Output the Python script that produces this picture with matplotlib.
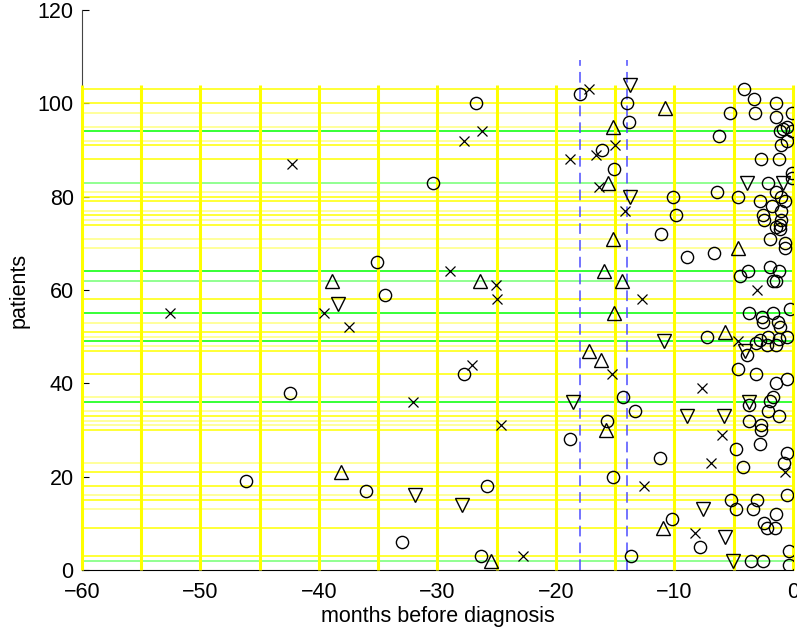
import numpy as np
import matplotlib
matplotlib.use('Agg')
import matplotlib.pyplot as plt

plt.rcParams['font.family'] = ['Liberation Sans', 'DejaVu Sans']

# patient rows drawn as horizontal lines
rows_yellow = [103, 100, 91, 88, 80, 79, 76, 74, 58, 51, 47, 42, 33, 30, 21, 18, 15, 9, 3]
rows_yellow_pale = [98, 95, 92, 81, 77, 75, 71, 69, 53, 50, 48, 37, 34, 32, 31, 23, 16, 13]
rows_green = [94, 64, 55, 49, 36]
rows_green_pale = [83, 62, 2]

# dashed reference months
ref_months = [-18, -14]

# events (months before diagnosis, patient)
circ_x = [-35.1, -34.4, -42.45, -46.2, -36.0, -33.0, -30.35, -26.75, -18.0, -14.04, -13.8, -16.1,
          -15.1, -27.8, -14.3, -13.3, -15.7, -18.8, -15.2, -25.8, -26.3, -13.7, -11.2, -10.2,
          -10.1, -9.9, -11.1, -8.9, -6.7, -6.25, -5.3, -6.4, -4.6, -7.23, -7.85,
          -4.13, -3.3, -1.45, -3.2, -1.4, -0.1, -1.1, -0.8, -0.5, -0.1, -0.5, -1.0, -2.7, -1.15,
          -0.1, -0.1, -2.1, -1.4, -2.8, -1.8, -0.7, -1.0, -1.0, -2.5, -2.4, -1.0, -1.05, -1.4,
          -1.1, -1.9, -0.7, -0.7, -4.47, -3.77, -1.9, -1.15, -1.7, -1.45, -0.25, -3.7, -2.65,
          -2.5, -1.66, -1.24, -1.1, -2.1, -2.8, -2.2, -1.45, -1.2, -0.5, -3.1, -3.9, -4.6, -3.1,
          -0.5, -1.45, -1.72, -1.95, -3.68, -2.08, -1.16, -3.68, -2.73, -2.73, -2.78, -4.8,
          -0.53, -0.76, -4.2, -0.5, -5.26, -3.0, -4.8, -3.4, -1.43, -2.45, -2.2, -1.5, -0.35,
          -3.5, -2.55, -0.3]
circ_y = [66, 59, 38, 19, 17, 6, 83, 100, 102, 100, 96, 90,
          86, 42, 37, 34, 32, 28, 20, 18, 3, 3, 24, 11,
          80, 76, 72, 67, 68, 93, 98, 81, 80, 50, 5,
          103, 101, 100, 98, 97, 98, 94, 94.6, 95, 94, 92, 91, 88, 88,
          85, 84, 83, 81, 79, 78, 79, 80, 77, 76, 75, 75, 74, 73.5,
          73, 71, 70, 69, 63, 64, 65, 64, 62, 62, 56, 55, 54.3,
          53.2, 55, 53.2, 52, 50, 49.3, 48.2, 48.2, 49.5, 50, 48.6, 46, 43, 42,
          41, 40, 37, 36.2, 35.3, 34, 33, 32, 31, 30, 27, 26,
          25, 23, 22, 16, 15, 15, 13, 13, 12, 10, 9, 9, 4,
          2, 2, 1]

cross_x = [-42.28, -52.6, -39.6, -37.5, -17.2, -26.2, -27.8, -15.0, -16.6, -18.8, -16.35, -14.15,
           -28.95, -25.1, -25.0, -12.7, -3.0, -4.6, -27.1, -15.25, -7.7, -32.1, -24.6, -6.0,
           -6.9, -0.68, -12.6, -8.3, -22.8]
cross_y = [87, 55, 55, 52, 103, 94, 92, 91, 89, 88, 82, 77,
           64, 61, 58, 58, 60, 49, 44, 42, 39, 36, 31, 29,
           23, 21, 18, 8, 3]

up_x = [-38.9, -38.1, -10.8, -15.2, -15.6, -15.2, -15.95, -14.4, -26.4, -4.6, -5.74, -15.1,
        -17.2, -16.2, -15.8, -10.95, -25.5]
up_y = [62, 21, 99, 95, 83, 71, 64, 62, 62, 69, 51, 55,
        47, 45, 30, 9, 2]

down_x = [-38.4, -13.76, -13.76, -3.85, -0.8, -10.9, -4.05, -18.6, -3.68, -8.97, -5.8, -31.9,
          -27.9, -7.6, -5.74, -5.04]
down_y = [57, 104, 80, 83, 83, 49, 47, 36, 36, 33, 33, 16,
          14, 13, 7, 2]

fig = plt.figure(figsize=(7.97, 6.33), dpi=100)
ax = fig.add_axes([0.1029, 0.0995, 0.892, 0.8847])

# patient lines
ax.hlines(rows_yellow, -60, 0, colors='#ffff00', linewidth=1.1, zorder=3)
ax.hlines(rows_yellow_pale, -60, 0, colors='#ffff00', linewidth=1.1, alpha=0.5, zorder=3)
ax.hlines(rows_green, -60, 0, colors='#00ff00', linewidth=1.1, zorder=3)
ax.hlines(rows_green_pale, -60, 0, colors='#00ff00', linewidth=1.1, alpha=0.55, zorder=3)

# vertical grid every 5 months
ax.vlines(np.arange(-60, 1, 5), 0, 104, colors='#ffff00', linewidth=2.2, zorder=3, clip_on=False)

# reference months
for m in ref_months:
    ax.plot([m, m], [0, 109.3], color='#4d4dff', linewidth=1.1, dashes=(7, 4), zorder=3.5)

mk = dict(linestyle='none', markerfacecolor='none', markeredgecolor='black', zorder=4)
ax.plot(circ_x, circ_y, marker='o', markersize=8.8, markeredgewidth=1.0, **mk)
ax.plot(cross_x, cross_y, marker='x', markersize=6.5, markeredgewidth=0.9, **mk)
ax.plot(up_x, up_y, marker='^', markersize=10, markeredgewidth=1.0, **mk)
ax.plot(down_x, down_y, marker='v', markersize=10, markeredgewidth=1.0, **mk)

ax.set_xlim(-60, 0)
ax.set_ylim(0, 120)
ax.set_xticks(np.arange(-60, 1, 10))
ax.set_yticks(np.arange(0, 121, 20))
ax.tick_params(direction='in', length=5, width=0.8, labelsize=15.5)
ax.tick_params(axis='x', pad=8.5)
ax.tick_params(axis='y', pad=6)

ax.spines['top'].set_visible(False)
ax.spines['right'].set_visible(False)
ax.spines['left'].set_color('#444444')

ax.set_xlabel('months before diagnosis', fontsize=15.5, labelpad=2)
ax.set_ylabel('patients', fontsize=15.5, labelpad=6)

fig.savefig('out.png', dpi=100)
